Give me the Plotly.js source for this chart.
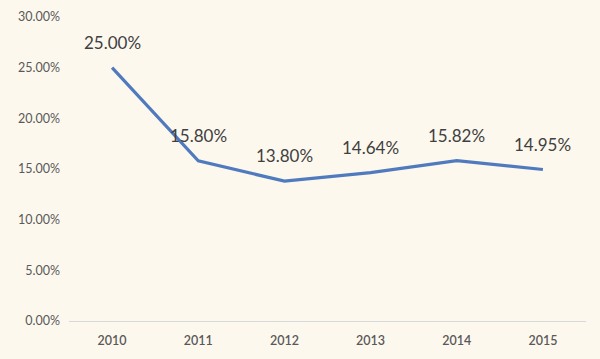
<!DOCTYPE html>
<html>
<head>
<meta charset="utf-8">
<script src="https://cdn.plot.ly/plotly-3.0.1.min.js"></script>
<style>html,body{margin:0;padding:0;background:#FDF8EE;}#chart{width:600px;height:359px;}</style>
</head>
<body>
<div id="chart"></div>
<script>
const years = ['2010', '2011', '2012', '2013', '2014', '2015'];
const rates = [0.25, 0.158, 0.138, 0.1464, 0.1582, 0.1495];
const labels = ['25.00%', '15.80%', '13.80%', '14.64%', '15.82%', '14.95%'];
const yTicks = [0, 0.05, 0.10, 0.15, 0.20, 0.25, 0.30];

const annotations = years.map((y, i) => ({
  x: i, y: rates[i], xref: 'x', yref: 'y',
  text: labels[i], showarrow: false,
  yanchor: 'bottom', yshift: 13,
  font: {family: 'Lato, "Open Sans", sans-serif', size: 17, color: '#404040'}
}));

Plotly.newPlot('chart', [{
  x: years, y: rates, type: 'scatter', mode: 'lines',
  line: {color: '#4F7BBE', width: 3.2},
  hoverinfo: 'skip'
}], {
  width: 600, height: 359,
  margin: {l: 69, r: 14, t: 17, b: 38},
  paper_bgcolor: '#FDF8EE', plot_bgcolor: '#FDF8EE',
  showlegend: false,
  xaxis: {type: 'category', categoryorder: 'array', categoryarray: years, range: [-0.5, 5.5],
    showgrid: false, zeroline: false, showline: false, ticks: '', ticklabelstandoff: 10,
    tickfont: {family: 'Lato, "Open Sans", sans-serif', size: 12.5, color: '#595959', weight: 600}},
  yaxis: {range: [0, 0.30], tickvals: yTicks, tickformat: '.2%', showgrid: false,
    zeroline: true, zerolinecolor: '#D9D9D9', zerolinewidth: 1, showline: false, ticks: '', ticklabelstandoff: 8,
    tickfont: {family: 'Lato, "Open Sans", sans-serif', size: 12.5, color: '#595959'}},
  annotations: annotations
}, {displayModeBar: false, staticPlot: true});
</script>
</body>
</html>
